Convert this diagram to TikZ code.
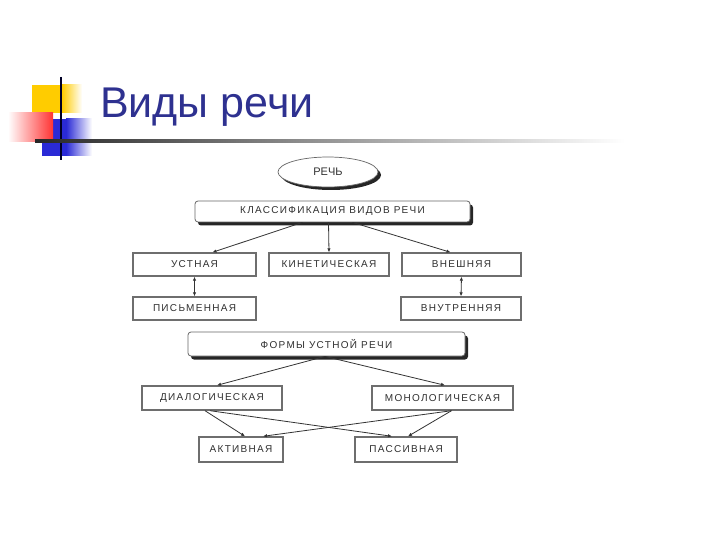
\documentclass[tikz,border=0pt]{standalone}
\usepackage{fontspec}
\setmainfont{Liberation Sans}
\newfontfamily\boxfont[LetterSpace=13]{Liberation Sans}
\usetikzlibrary{shapes.geometric,shadows,arrows.meta,calc}
\definecolor{titleblue}{HTML}{2E3190}
\definecolor{decoyellow}{HTML}{FFCC00}
\definecolor{decored}{HTML}{FF3333}
\definecolor{decoblue}{HTML}{2A2AD6}
\definecolor{boxtext}{HTML}{303030}
\definecolor{boxline}{HTML}{6E6E6E}
\tikzset{
  bx/.style={draw=boxline, line width=1.4pt, fill=white, font=\boxfont\fontsize{10}{11}\selectfont,
    text=boxtext, inner sep=0pt,
    drop shadow={shadow xshift=1.2pt, shadow yshift=-1.2pt, fill=black!35, opacity=1}},
  hdr/.style={draw=black!60, line width=0.8pt, fill=white, rounded corners=3pt,
    font=\boxfont\fontsize{10}{11}\selectfont, text=boxtext, inner sep=0pt,
    drop shadow={shadow xshift=3pt, shadow yshift=-3.5pt, fill=black, opacity=0.85}},
  conn/.style={draw=black!80, line width=0.8pt, -{Latex[length=4pt,width=3.5pt]}},
  dconn/.style={draw=black!80, line width=0.8pt, {Latex[length=4pt,width=3.5pt]}-{Latex[length=4pt,width=3.5pt]}}
}
\begin{document}
\begin{tikzpicture}[x=1pt,y=-1pt]
\path[use as bounding box, fill=white] (0,0) rectangle (720,540);
% title decoration
\fill[decoyellow] (32,85) rectangle (62,113);
\shade[left color=decoyellow, right color=white] (62,85) rectangle (82,113);
\fill[decoblue] (42,119) rectangle (66,156);
\shade[left color=decoblue, right color=white] (66,119) rectangle (92,156);
\shade[left color=white, right color=decored] (8,113) rectangle (53,142);
\draw[black!85!blue, line width=2pt] (61,77) -- (61,160);
\shade[left color=black!85, right color=black!45] (35,140) rectangle (300,142.5);
\shade[left color=black!45, right color=white] (300,140) rectangle (625,142.5);
\node[anchor=base west, font=\fontsize{43}{47}\selectfont, text=titleblue, inner sep=0pt] (title) at (100,118) {Виды речи};
% diagram
\node[ellipse, draw=black!60, line width=0.7pt, fill=white, minimum width=100pt, minimum height=30pt,
  font=\fontsize{11}{12}\selectfont, text=boxtext,
  drop shadow={shadow xshift=3pt, shadow yshift=-3pt, fill=black, opacity=0.85}] (rech) at (328,172) {РЕЧЬ};
\node[hdr, minimum width=275pt, minimum height=21pt] (klass) at (332.5,211.5) {КЛАССИФИКАЦИЯ ВИДОВ РЕЧИ};
\node[bx, minimum width=123pt, minimum height=23pt] (ust) at (194.5,264.5) {УСТНАЯ};
\node[bx, minimum width=120pt, minimum height=23pt] (kin) at (329,264.5) {КИНЕТИЧЕСКАЯ};
\node[bx, minimum width=119pt, minimum height=23pt] (vne) at (461.5,264.5) {ВНЕШНЯЯ};
\node[bx, minimum width=123pt, minimum height=23pt] (pis) at (194.5,308.5) {ПИСЬМЕННАЯ};
\node[bx, minimum width=120pt, minimum height=23pt] (vnu) at (461,308.5) {ВНУТРЕННЯЯ};
\node[hdr, minimum width=277pt, minimum height=24pt] (formy) at (326.5,344) {ФОРМЫ УСТНОЙ РЕЧИ};
\node[bx, minimum width=140pt, minimum height=24pt] (dia) at (212,398) {ДИАЛОГИЧЕСКАЯ};
\node[bx, minimum width=141pt, minimum height=24pt] (mon) at (442.5,398) {МОНОЛОГИЧЕСКАЯ};
\node[bx, minimum width=84pt, minimum height=25pt] (akt) at (241,449.5) {АКТИВНАЯ};
\node[bx, minimum width=102pt, minimum height=25pt] (pas) at (406,449.5) {ПАССИВНАЯ};
% connectors
\draw[conn] ($(klass.south)+(-30,0)$) -- ($(ust.north)+(18,0)$);
\draw[conn] ($(klass.south)+(-4,0)$) -- (kin.north);
\draw[conn] ($(klass.south)+(20,0)$) -- ($(vne.north)+(-11,0)$);
\draw[dconn] (ust.south) -- (pis.north);
\draw[dconn] (vne.south) -- (vnu.north);
\draw[conn] ($(formy.south)+(-1.5,0)$) -- ($(dia.north)+(5,0)$);
\draw[conn] ($(formy.south)+(-1.5,0)$) -- ($(mon.north)+(2.5,0)$);
\draw[conn] ($(dia.south)+(-7,0)$) -- ($(akt.north)+(4,0)$);
\draw[conn] ($(dia.south)+(-2,0)$) -- ($(pas.north)+(-14,0)$);
\draw[conn] ($(mon.south)+(9,0)$) -- ($(akt.north)+(22,0)$);
\draw[conn] ($(mon.south)+(9,0)$) -- ($(pas.north)+(2,0)$);
\end{tikzpicture}
\end{document}
